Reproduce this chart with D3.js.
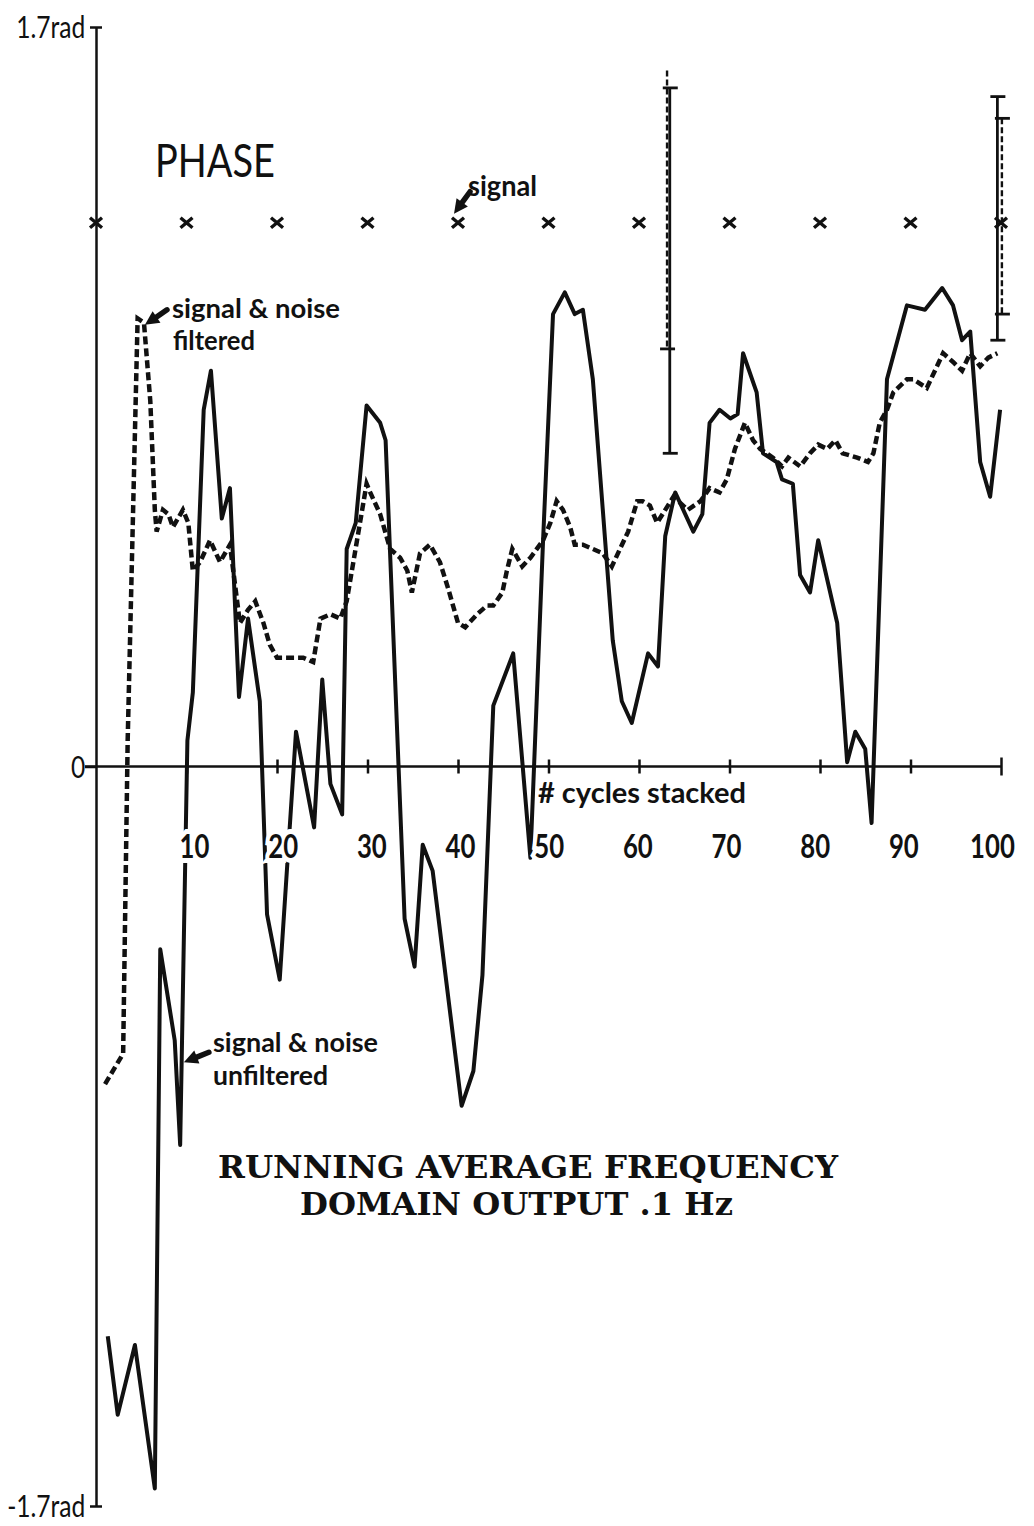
<!DOCTYPE html>
<html>
<head>
<meta charset="utf-8">
<script src="https://cdn.jsdelivr.net/npm/d3@7"></script>
<style>
  body { margin: 0; background: #fff; }
  svg { display: block; }
  .hand { font-family: Lato, "Noto Sans", sans-serif; fill: #111; }
  .title { font-family: "DejaVu Serif", serif; font-weight: bold; fill: #111; }
</style>
</head>
<body>
<div id="chart"></div>
<script>
// signal & noise unfiltered (solid line)
var rawCycles = [1.3, 2.4, 4.3, 6.5, 7.1, 8.7, 9.3, 10.1, 10.7, 11.9, 12.7, 13.9, 14.8, 15.8, 16.8,
    18.1, 18.9, 20.3, 22.1, 24.1, 25.0, 25.9, 27.2, 27.7, 28.7, 29.9, 31.4, 32.0, 34.1, 35.2,
    36.1, 37.2, 40.4, 41.7, 42.7, 43.9, 46.1, 48.0, 49.4, 50.5, 51.8, 52.9, 53.8, 54.9, 57.1,
    58.1, 59.2, 61.0, 62.1, 62.9, 64.0, 66.0, 67.0, 67.8, 68.9, 70.1, 70.9, 71.5, 73.0, 73.7,
    75.2, 75.8, 77.0, 77.8, 78.9, 79.8, 81.9, 83.0, 83.9, 85.0, 85.7, 87.4, 89.6, 91.6, 93.5,
    94.7, 95.7, 96.6, 97.7, 98.8, 99.9];
var rawPhase = [-1.31, -1.49, -1.33, -1.66, -0.42, -0.63, -0.87, 0.06, 0.17, 0.82, 0.91, 0.57, 0.64, 0.16, 0.34,
    0.15, -0.34, -0.49, 0.08, -0.14, 0.20, -0.04, -0.11, 0.50, 0.56, 0.83, 0.79, 0.75, -0.35, -0.46,
    -0.18, -0.24, -0.78, -0.70, -0.48, 0.14, 0.26, -0.21, 0.52, 1.04, 1.09, 1.04, 1.05, 0.89, 0.29,
    0.15, 0.10, 0.26, 0.23, 0.53, 0.63, 0.54, 0.58, 0.79, 0.82, 0.80, 0.81, 0.95, 0.86, 0.72,
    0.70, 0.66, 0.65, 0.44, 0.40, 0.52, 0.33, 0.01, 0.08, 0.04, -0.13, 0.89, 1.06, 1.05, 1.10,
    1.06, 0.98, 1.00, 0.70, 0.62, 0.82];

// signal & noise filtered (dashed line)
var filtCycles = [1.0, 3.0, 3.5, 4.6, 5.3, 6.0, 6.5, 6.7, 7.4, 8.0, 8.5, 9.6, 10.2, 10.7, 11.5,
    12.6, 13.7, 14.8, 15.9, 16.8, 17.6, 18.5, 19.2, 20.0, 21.4, 22.9, 24.0, 24.8, 25.9, 27.0,
    27.7, 28.6, 29.9, 30.3, 31.4, 32.5, 33.6, 34.4, 34.9, 35.8, 36.9, 38.0, 38.9, 40.0, 40.8,
    42.1, 43.2, 43.9, 44.9, 45.4, 46.0, 47.1, 48.0, 49.4, 50.2, 50.9, 51.6, 52.4, 52.9, 53.8,
    54.9, 56.0, 57.0, 57.9, 58.8, 59.8, 60.4, 61.2, 62.0, 62.9, 63.8, 65.4, 66.8, 67.8, 68.9,
    69.7, 70.6, 71.7, 72.6, 73.4, 74.8, 75.8, 76.5, 77.8, 78.9, 79.8, 80.8, 81.7, 82.5, 84.1,
    85.3, 85.9, 86.6, 87.4, 88.1, 89.6, 90.3, 91.8, 93.6, 94.7, 95.7, 96.6, 97.7, 98.6, 99.6];
var filtPhase = [-0.73, -0.66, 0.06, 1.03, 1.02, 0.84, 0.59, 0.54, 0.59, 0.58, 0.55, 0.59, 0.56, 0.45, 0.47,
    0.52, 0.47, 0.51, 0.33, 0.36, 0.38, 0.33, 0.28, 0.25, 0.25, 0.25, 0.24, 0.34, 0.35, 0.34,
    0.38, 0.49, 0.65, 0.63, 0.58, 0.50, 0.48, 0.45, 0.40, 0.49, 0.51, 0.47, 0.41, 0.33, 0.32,
    0.35, 0.37, 0.37, 0.40, 0.45, 0.50, 0.46, 0.48, 0.52, 0.56, 0.61, 0.59, 0.55, 0.51, 0.51,
    0.50, 0.49, 0.46, 0.50, 0.54, 0.61, 0.61, 0.60, 0.56, 0.59, 0.62, 0.59, 0.61, 0.64, 0.63,
    0.66, 0.73, 0.79, 0.75, 0.73, 0.71, 0.69, 0.71, 0.69, 0.72, 0.74, 0.73, 0.75, 0.72, 0.71,
    0.70, 0.72, 0.79, 0.82, 0.86, 0.89, 0.89, 0.87, 0.95, 0.93, 0.91, 0.95, 0.92, 0.94, 0.95];

// pure signal (x marks)
var signalCycles = [0, 10, 20, 30, 40, 50, 60, 70, 80, 90, 100];
var signalPhase = 1.25;

// error bars
var errCycles = [63.4, 63.1, 99.6, 100.1];
var errLow = [0.72, 0.96, 0.98, 1.04];
var errHigh = [1.56, 1.60, 1.54, 1.49];
var errKind = ["unfiltered", "filtered", "unfiltered", "filtered"];

// axes
var xTicks = [10, 20, 30, 40, 50, 60, 70, 80, 90, 100];
var yTicks = [-1.7, 0, 1.7];
var yTickLabels = ["-1.7rad", "0", "1.7rad"];

var width = 1034, height = 1526;

var x = d3.scaleLinear().domain([0, 100]).range([96, 1001]);
var y = d3.scaleLinear().domain([-1.7, 1.7]).range([1506, 27]);
// hand lettered tick numbers sit a little off their ticks
var labelX = d3.scaleLinear().domain([10, 100]).range([194, 992]);

var svg = d3.select("#chart").append("svg")
    .attr("width", width)
    .attr("height", height);

svg.append("rect").attr("width", width).attr("height", height).attr("fill", "#fff");

var line = d3.line()
    .x(function (d) { return x(d.c); })
    .y(function (d) { return y(d.v); });

var rawData = rawCycles.map(function (c, i) { return {c: c, v: rawPhase[i]}; });
var filtData = filtCycles.map(function (c, i) { return {c: c, v: filtPhase[i]}; });

svg.append("path")
    .datum(filtData)
    .attr("d", line)
    .attr("fill", "none")
    .attr("stroke", "#111")
    .attr("stroke-width", 4.5)
    .attr("stroke-dasharray", "8,4");

svg.append("path")
    .datum(rawData)
    .attr("d", line)
    .attr("fill", "none")
    .attr("stroke", "#111")
    .attr("stroke-width", 4)
    .attr("stroke-linejoin", "round");

// y axis
var gy = svg.append("g")
    .attr("transform", "translate(" + x(0) + ",0)")
    .call(d3.axisLeft(y).tickValues(yTicks)
        .tickFormat(function (d, i) { return yTickLabels[i]; })
        .tickSize(0).tickPadding(13));
gy.select(".domain").attr("stroke", "#111").attr("stroke-width", 2.5);
gy.selectAll(".tick line")
    .attr("stroke", "#111").attr("stroke-width", 2.5)
    .attr("x1", function (d) { return d === 0 ? -11 : -6; })
    .attr("x2", function (d) { return d === 0 ? 0 : 6; });
gy.selectAll(".tick text")
    .attr("class", "hand")
    .attr("font-size", 30)
    .attr("dy", "0.36em")
    .attr("transform", "scale(0.82,1)");

// x axis along phase 0
var gx = svg.append("g")
    .attr("transform", "translate(0," + y(0) + ")")
    .call(d3.axisBottom(x).tickValues(xTicks).tickFormat(d3.format("d")).tickSize(7).tickPadding(0));
gx.select(".domain").remove();
gx.insert("line", ":first-child")
    .attr("x1", x(0) - 11).attr("x2", x(100))
    .attr("stroke", "#111").attr("stroke-width", 2.5);
gx.selectAll(".tick line")
    .attr("stroke", "#111").attr("stroke-width", 2.5)
    .attr("y1", function (d) { return d === 100 ? -9 : -7; })
    .attr("y2", function (d) { return d === 100 ? 9 : 7; });
gx.selectAll(".tick text")
    .attr("class", "hand")
    .attr("font-size", 33)
    .attr("font-weight", "bold")
    .attr("stroke", "#fff")
    .attr("stroke-width", 10)
    .attr("paint-order", "stroke")
    .attr("y", 92).attr("dy", 0)
    .attr("transform", function (d) { return "translate(" + (labelX(d) - x(d)) + ",0) scale(0.78,1)"; });

// signal marks
svg.selectAll(".sig")
    .data(signalCycles)
    .enter().append("path")
    .attr("class", "sig")
    .attr("transform", function (d) { return "translate(" + x(d) + "," + y(signalPhase) + ")"; })
    .attr("d", "M-6,-5L6,5M-6,5L6,-5")
    .attr("stroke", "#111")
    .attr("stroke-width", 3.4);

// error bars
var bars = svg.selectAll(".err")
    .data(errCycles.map(function (c, i) { return {c: c, lo: errLow[i], hi: errHigh[i], kind: errKind[i]}; }))
    .enter().append("g")
    .attr("class", "err")
    .attr("stroke", "#111");
bars.append("line")
    .attr("x1", function (d) { return x(d.c); })
    .attr("x2", function (d) { return x(d.c); })
    .attr("y1", function (d) { return y(d.hi); })
    .attr("y2", function (d) { return y(d.lo); })
    .attr("stroke-width", function (d) { return d.kind === "filtered" ? 2.4 : 2.8; })
    .attr("stroke-dasharray", function (d) { return d.kind === "filtered" ? "6,3" : null; });
bars.selectAll(".cap")
    .data(function (d) {
        // the filtered bar at 63 runs past the solid cap without one of its own
        var ends = d.c < 90 && d.kind === "filtered" ? [d.lo] : [d.lo, d.hi];
        return ends.map(function (v) { return {c: d.c, v: v}; });
    })
    .enter().append("line")
    .attr("class", "cap")
    .attr("x1", function (d) { return x(d.c) - 7; })
    .attr("x2", function (d) { return x(d.c) + 8; })
    .attr("y1", function (d) { return y(d.v); })
    .attr("y2", function (d) { return y(d.v); })
    .attr("stroke-width", 2.8);

// annotation arrows
function arrow(hx, hy, tx, ty) {
    var a = Math.atan2(hy - ty, hx - tx);
    var len = 14, half = 7;
    var bx = hx - len * Math.cos(a), by = hy - len * Math.sin(a);
    svg.append("line")
        .attr("x1", tx).attr("y1", ty).attr("x2", bx).attr("y2", by)
        .attr("stroke", "#111").attr("stroke-width", 5.5).attr("stroke-linecap", "round");
    svg.append("path")
        .attr("d", "M" + hx + "," + hy +
            "L" + (bx - half * Math.sin(a)) + "," + (by + half * Math.cos(a)) +
            "L" + (bx + half * Math.sin(a)) + "," + (by - half * Math.cos(a)) + "Z")
        .attr("fill", "#111");
}
arrow(x(40) - 4, y(signalPhase) - 9, x(40) + 12, y(signalPhase) - 31);
arrow(x(5.3) + 1, y(1.02) + 2, x(5.3) + 23, y(1.02) - 13);
arrow(x(9.6) + 1, y(-0.68), x(9.6) + 26, y(-0.68) - 10);

// texts
function label(str, px, py, size, len, weight) {
    svg.append("text")
        .attr("class", "hand")
        .attr("x", px).attr("y", py)
        .attr("font-size", size)
        .attr("font-weight", weight || "bold")
        .attr("textLength", len)
        .attr("lengthAdjust", "spacingAndGlyphs")
        .text(str);
}
label("PHASE", 155, 177, 46, 120, "normal");
label("signal", 468, 196, 28, 69);
label("signal & noise", 172, 318, 26, 168);
label("filtered", 173, 350, 26, 82);
label("signal & noise", 213, 1052, 26, 165);
label("unfiltered", 213, 1085, 26, 115);
label("# cycles stacked", 538, 803, 29, 208);

svg.append("text").attr("class", "title")
    .attr("x", 218).attr("y", 1178)
    .attr("font-size", 32)
    .attr("textLength", 620).attr("lengthAdjust", "spacingAndGlyphs")
    .text("RUNNING AVERAGE FREQUENCY");
svg.append("text").attr("class", "title")
    .attr("x", 300).attr("y", 1215)
    .attr("font-size", 32)
    .attr("textLength", 433).attr("lengthAdjust", "spacingAndGlyphs")
    .text("DOMAIN OUTPUT .1 Hz");
</script>
</body>
</html>
